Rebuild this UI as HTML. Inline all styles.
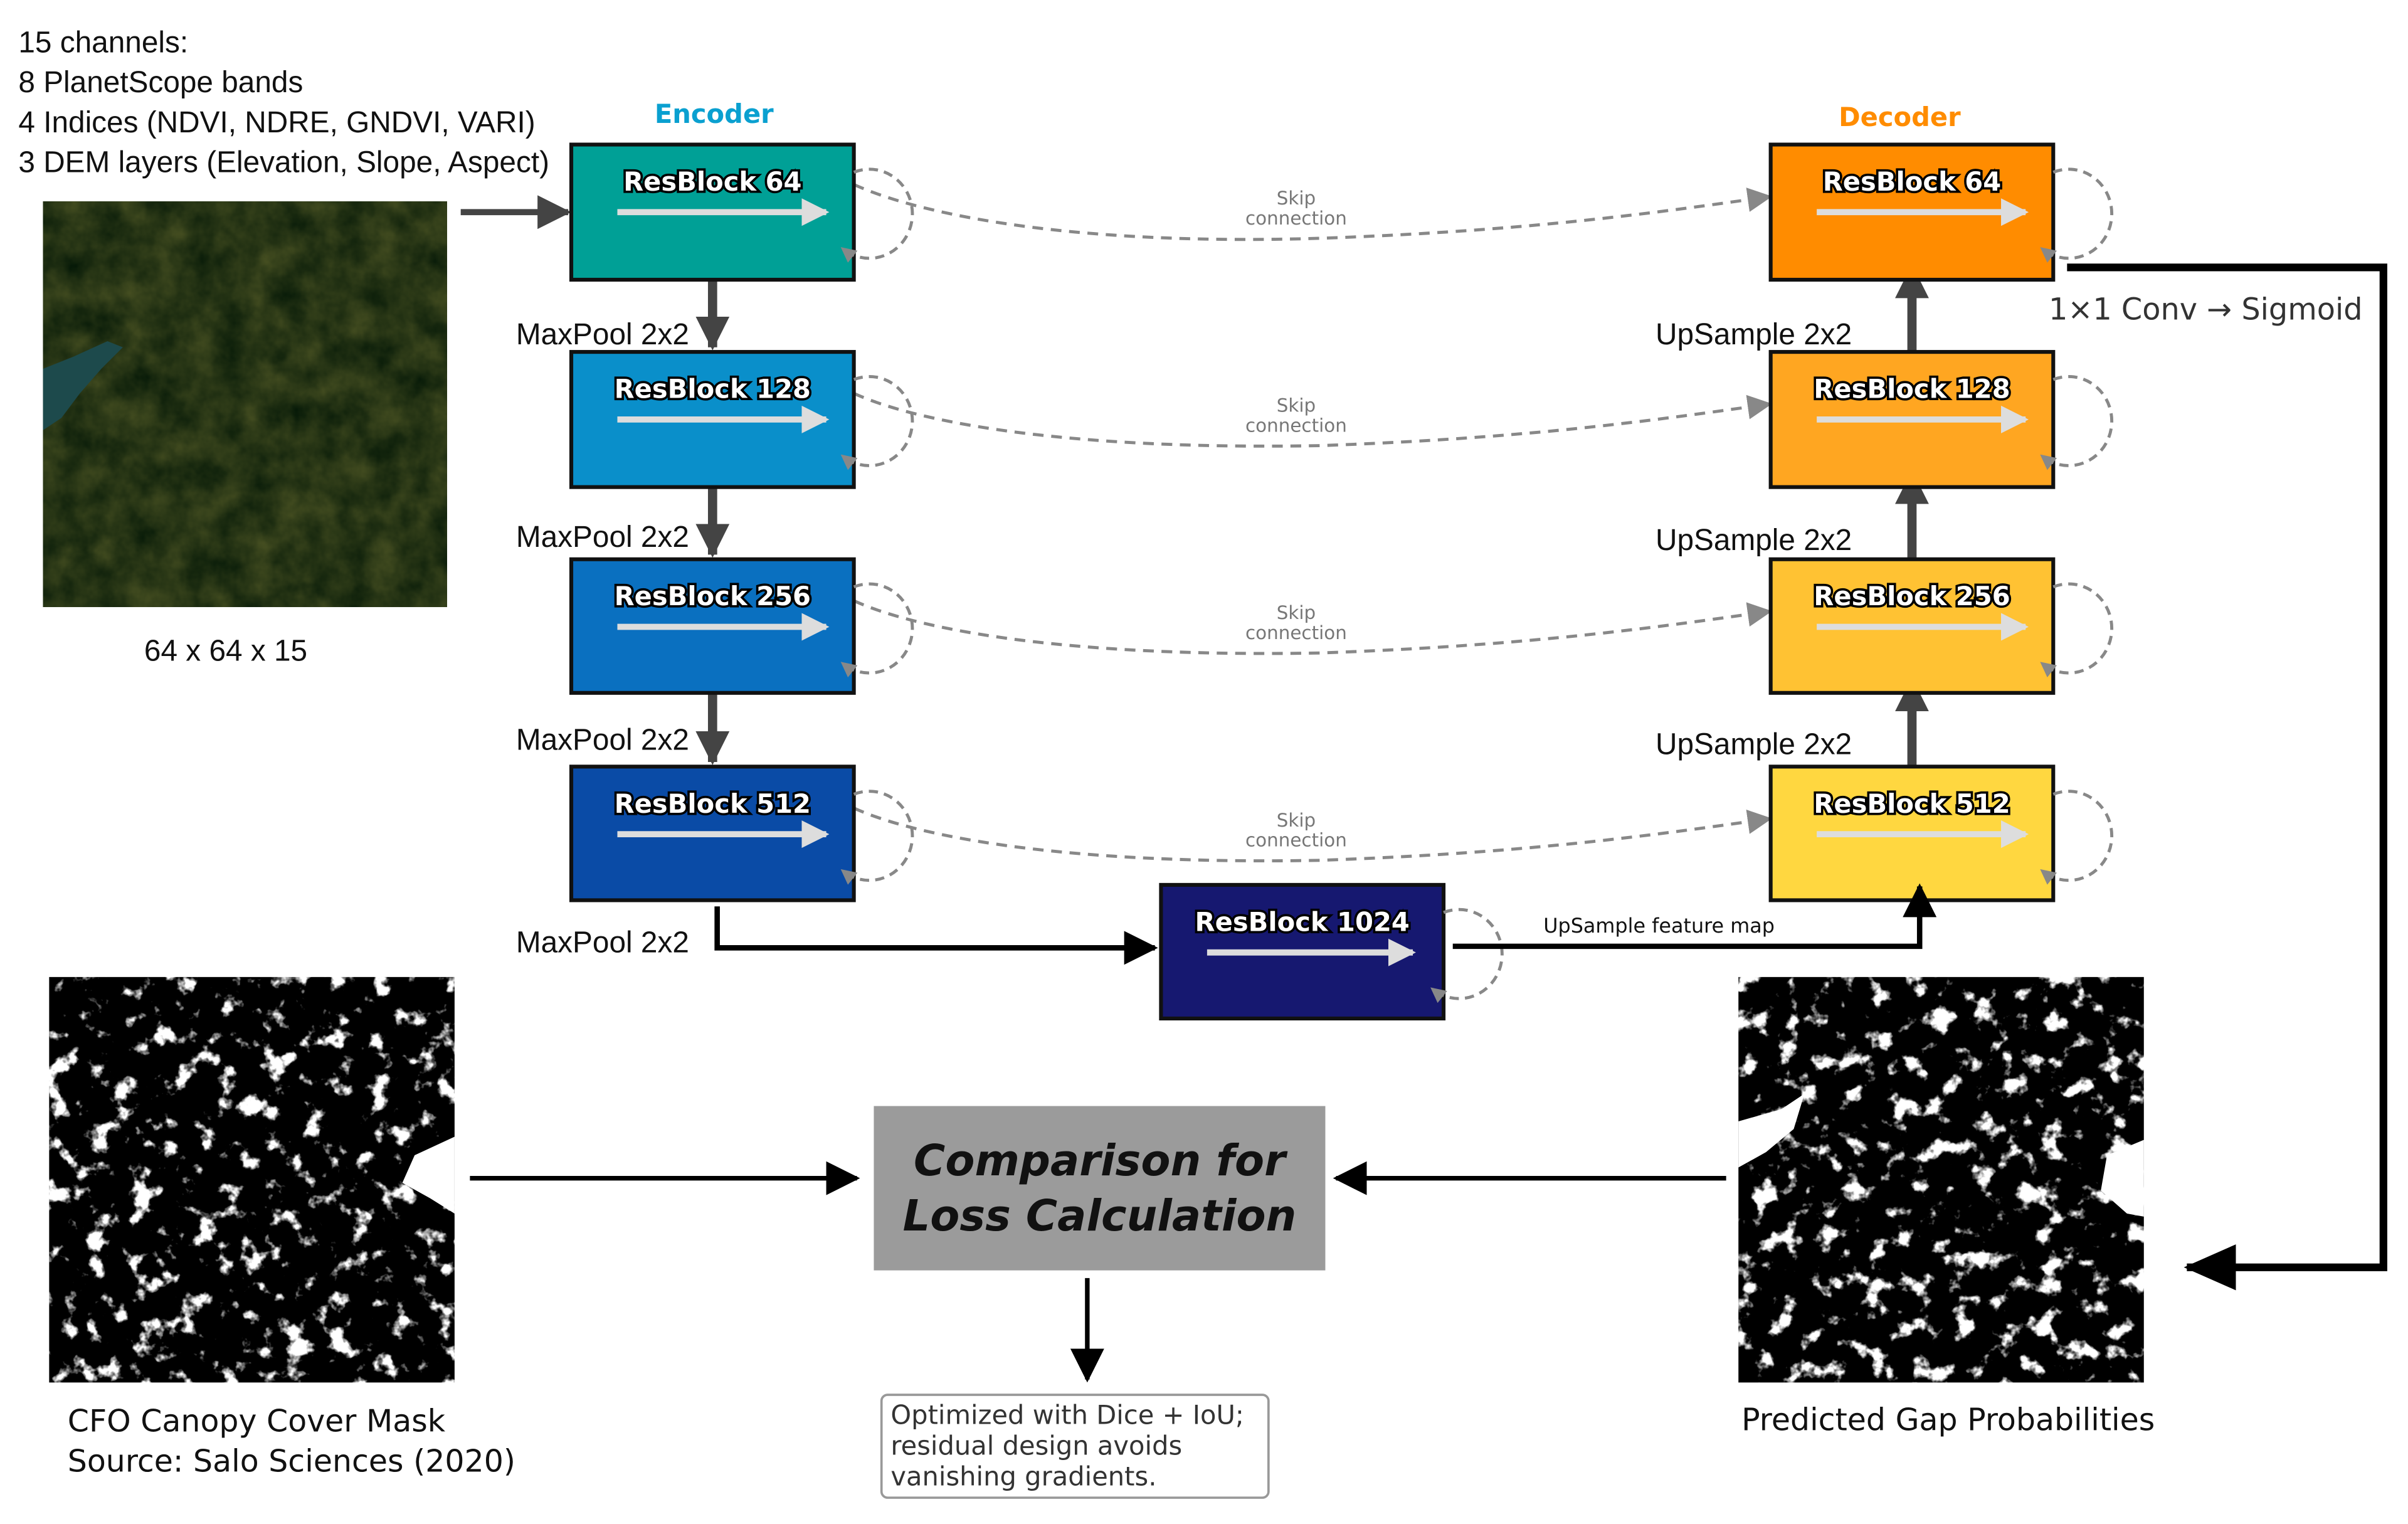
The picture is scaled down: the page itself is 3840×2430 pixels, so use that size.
<!DOCTYPE html>
<html><head><meta charset="utf-8"><style>
html,body{margin:0;padding:0;background:#fff;}
svg{display:block;}
.bt{font-family:"DejaVu Sans","Liberation Sans",sans-serif;font-weight:bold;font-size:17px;fill:#fff;stroke:#000;stroke-width:3px;paint-order:stroke;text-anchor:middle;}
.lb{font-family:"Liberation Sans","DejaVu Sans",sans-serif;font-size:19.5px;fill:#111;}
.sk{font-family:"DejaVu Sans",sans-serif;font-size:12px;fill:#777;text-anchor:middle;}
</style></head><body>
<svg width="3840" height="2430" viewBox="0 0 1568 992" xmlns="http://www.w3.org/2000/svg">
<defs>
<marker id="ag" markerWidth="10" markerHeight="10" refX="8" refY="5" orient="auto" markerUnits="userSpaceOnUse"><path d="M0,0 L10,5 L0,10z" fill="#888"/></marker>
<marker id="agl" markerWidth="16" markerHeight="16" refX="14" refY="8" orient="auto" markerUnits="userSpaceOnUse"><path d="M0,0 L16,8 L0,16z" fill="#888"/></marker>
<marker id="aw" markerWidth="18" markerHeight="18" refX="16" refY="9" orient="auto" markerUnits="userSpaceOnUse"><path d="M0,0 L18,9 L0,18z" fill="#ddd"/></marker>
<marker id="ad" markerWidth="22" markerHeight="22" refX="20" refY="11" orient="auto" markerUnits="userSpaceOnUse"><path d="M0,0 L22,11 L0,22z" fill="#444"/></marker>
<marker id="ab" markerWidth="22" markerHeight="22" refX="20" refY="11" orient="auto" markerUnits="userSpaceOnUse"><path d="M0,0 L22,11 L0,22z" fill="#000"/></marker>
<marker id="abl" markerWidth="34" markerHeight="30" refX="32" refY="15" orient="auto" markerUnits="userSpaceOnUse"><path d="M0,0 L34,15 L0,30z" fill="#000"/></marker>
<filter id="sat" x="0" y="0" width="1" height="1" color-interpolation-filters="sRGB">
<feTurbulence type="fractalNoise" baseFrequency="0.05" numOctaves="4" seed="3"/>
<feColorMatrix type="matrix" values="0.3 0 0 0 0.0  0.25 0 0 0 0.08  0.12 0 0 0 0.02  0 0 0 0 1"/>
</filter>
<filter id="mask" x="0" y="0" width="1" height="1" color-interpolation-filters="sRGB">
<feTurbulence type="fractalNoise" baseFrequency="0.07" numOctaves="4" seed="7"/>
<feColorMatrix type="matrix" values="0 0 0 0 1  0 0 0 0 1  0 0 0 0 1  8 0 0 0 -4.6"/>
</filter>
<filter id="mask2" x="0" y="0" width="1" height="1" color-interpolation-filters="sRGB">
<feTurbulence type="fractalNoise" baseFrequency="0.07" numOctaves="4" seed="11"/>
<feColorMatrix type="matrix" values="0 0 0 0 1  0 0 0 0 1  0 0 0 0 1  8 0 0 0 -4.6"/>
</filter>
</defs>

<text class="lb" x="12" y="34">15 channels:</text>
<text class="lb" x="12" y="60">8 PlanetScope bands</text>
<text class="lb" x="12" y="86">4 Indices (NDVI, NDRE, GNDVI, VARI)</text>
<text class="lb" x="12" y="112">3 DEM layers (Elevation, Slope, Aspect)</text>

<rect x="28" y="131" width="263" height="264" fill="#26361c"/>
<rect x="28" y="131" width="263" height="264" filter="url(#sat)"/>
<path d="M28,240 L48,232 L70,222 L80,226 L66,240 L52,256 L40,272 L28,280z" fill="#1d4a4c"/>
<text class="lb" x="147" y="430" text-anchor="middle">64 x 64 x 15</text>

<path d="M300,138 L370,138" stroke="#444" stroke-width="4" marker-end="url(#ad)"/>

<text x="465" y="80" text-anchor="middle" style="font-family:'DejaVu Sans',sans-serif;font-weight:bold;font-size:17px;fill:#0aa0d0">Encoder</text>
<text x="1237" y="82" text-anchor="middle" style="font-family:'DejaVu Sans',sans-serif;font-weight:bold;font-size:17px;fill:#ff8c00">Decoder</text>

<g fill="none" stroke="#888" stroke-width="2" stroke-dasharray="7,5">
<path d="M556,120 C600,140 700,160 860,155 C1000,150 1080,138 1152,128" marker-end="url(#agl)"/>
<path d="M556,256 C600,276 700,293 860,290 C1000,285 1080,273 1152,263" marker-end="url(#agl)"/>
<path d="M556,391 C600,411 700,428 860,425 C1000,420 1080,408 1152,398" marker-end="url(#agl)"/>
<path d="M556,526 C600,546 700,563 860,560 C1000,555 1080,543 1152,533" marker-end="url(#agl)"/>
</g>
<text class="sk" x="844" y="133">Skip</text><text class="sk" x="844" y="146">connection</text>
<text class="sk" x="844" y="268">Skip</text><text class="sk" x="844" y="281">connection</text>
<text class="sk" x="844" y="403">Skip</text><text class="sk" x="844" y="416">connection</text>
<text class="sk" x="844" y="538">Skip</text><text class="sk" x="844" y="551">connection</text>

<g stroke="#444" stroke-width="6">
<path d="M464,182 L464,226" marker-end="url(#ad)"/>
<path d="M464,317 L464,361" marker-end="url(#ad)"/>
<path d="M464,451 L464,496" marker-end="url(#ad)"/>
<path d="M1245,229 L1245,174" marker-end="url(#ad)"/>
<path d="M1245,364 L1245,308" marker-end="url(#ad)"/>
<path d="M1245,499 L1245,443" marker-end="url(#ad)"/>
</g>
<text class="lb" x="336" y="224">MaxPool 2x2</text>
<text class="lb" x="336" y="356">MaxPool 2x2</text>
<text class="lb" x="336" y="488">MaxPool 2x2</text>
<text class="lb" x="336" y="620">MaxPool 2x2</text>
<text class="lb" x="1078" y="224">UpSample 2x2</text>
<text class="lb" x="1078" y="358">UpSample 2x2</text>
<text class="lb" x="1078" y="491">UpSample 2x2</text>

<g stroke="#111" stroke-width="2.5">
<rect x="372" y="94" width="184" height="88" fill="#00a096"/>
<rect x="372" y="229" width="184" height="88" fill="#0a8fca"/>
<rect x="372" y="364" width="184" height="87" fill="#0a70c0"/>
<rect x="372" y="499" width="184" height="87" fill="#0a4ba6"/>
<rect x="756" y="576" width="184" height="87" fill="#161870"/>
<rect x="1153" y="94" width="184" height="88" fill="#ff8c00"/>
<rect x="1153" y="229" width="184" height="88" fill="#ffa621"/>
<rect x="1153" y="364" width="184" height="87" fill="#ffc233"/>
<rect x="1153" y="499" width="184" height="87" fill="#ffd740"/>
</g>
<g>
<text class="bt" x="464" y="124">ResBlock 64</text>
<text class="bt" x="464" y="259">ResBlock 128</text>
<text class="bt" x="464" y="394">ResBlock 256</text>
<text class="bt" x="464" y="529">ResBlock 512</text>
<text class="bt" x="848" y="606">ResBlock 1024</text>
<text class="bt" x="1245" y="124">ResBlock 64</text>
<text class="bt" x="1245" y="259">ResBlock 128</text>
<text class="bt" x="1245" y="394">ResBlock 256</text>
<text class="bt" x="1245" y="529">ResBlock 512</text>
</g>
<g stroke="#ddd" stroke-width="4">
<path d="M402,138 L538,138" marker-end="url(#aw)"/>
<path d="M402,273 L538,273" marker-end="url(#aw)"/>
<path d="M402,408 L538,408" marker-end="url(#aw)"/>
<path d="M402,543 L538,543" marker-end="url(#aw)"/>
<path d="M786,620 L920,620" marker-end="url(#aw)"/>
<path d="M1183,138 L1319,138" marker-end="url(#aw)"/>
<path d="M1183,273 L1319,273" marker-end="url(#aw)"/>
<path d="M1183,408 L1319,408" marker-end="url(#aw)"/>
<path d="M1183,543 L1319,543" marker-end="url(#aw)"/>
</g>
<g fill="none" stroke="#888" stroke-width="2" stroke-dasharray="6,4">
<path d="M556,112 A28,29 0 1 1 549,162" marker-end="url(#ag)"/>
<path d="M556,247 A28,29 0 1 1 549,297" marker-end="url(#ag)"/>
<path d="M556,382 A28,29 0 1 1 549,432" marker-end="url(#ag)"/>
<path d="M556,517 A28,29 0 1 1 549,567" marker-end="url(#ag)"/>
<path d="M940,594 A28,29 0 1 1 933,644" marker-end="url(#ag)"/>
<path d="M1337,112 A28,29 0 1 1 1330,162" marker-end="url(#ag)"/>
<path d="M1337,247 A28,29 0 1 1 1330,297" marker-end="url(#ag)"/>
<path d="M1337,382 A28,29 0 1 1 1330,432" marker-end="url(#ag)"/>
<path d="M1337,517 A28,29 0 1 1 1330,567" marker-end="url(#ag)"/>
</g>

<path d="M467,590 L467,617 L752,617" fill="none" stroke="#000" stroke-width="3.5" marker-end="url(#ab)"/>
<path d="M946,616 L1250,616 L1250,577" fill="none" stroke="#000" stroke-width="3.5" marker-end="url(#ab)"/>
<text x="1005" y="607" style="font-family:'DejaVu Sans',sans-serif;font-size:13px;fill:#111">UpSample feature map</text>

<path d="M1346,174 L1552,174 L1552,825 L1424,825" fill="none" stroke="#000" stroke-width="5" marker-end="url(#abl)"/>
<text x="1334" y="208" style="font-family:'DejaVu Sans',sans-serif;font-size:19.5px;fill:#333">1×1 Conv → Sigmoid</text>

<rect x="32" y="636" width="264" height="264" fill="#000"/>
<rect x="32" y="636" width="264" height="264" filter="url(#mask)"/>
<path d="M296,740 L270,752 L262,770 L280,780 L296,790z" fill="#fff"/>
<rect x="1132" y="636" width="264" height="264" fill="#000"/>
<rect x="1132" y="636" width="264" height="264" filter="url(#mask2)"/>
<path d="M1132,730 L1160,722 L1175,712 L1168,735 L1150,750 L1132,760z" fill="#fff"/>
<path d="M1396,742 L1372,752 L1368,775 L1385,790 L1396,792z" fill="#fff"/>
<text x="44" y="932" style="font-family:'DejaVu Sans',sans-serif;font-size:20px;fill:#111">CFO Canopy Cover Mask</text>
<text x="44" y="958" style="font-family:'DejaVu Sans',sans-serif;font-size:20px;fill:#111">Source: Salo Sciences (2020)</text>
<text x="1134" y="931" style="font-family:'DejaVu Sans',sans-serif;font-size:20px;fill:#111">Predicted Gap Probabilities</text>

<rect x="569" y="720" width="294" height="107" fill="#9b9b9b"/>
<text x="716" y="765" text-anchor="middle" style="font-family:'DejaVu Sans',sans-serif;font-weight:bold;font-style:italic;font-size:28px;fill:#111">Comparison for</text>
<text x="716" y="801" text-anchor="middle" style="font-family:'DejaVu Sans',sans-serif;font-weight:bold;font-style:italic;font-size:28px;fill:#111">Loss Calculation</text>
<path d="M306,767 L558,767" stroke="#000" stroke-width="3" marker-end="url(#ab)"/>
<path d="M1124,767 L870,767" stroke="#000" stroke-width="3" marker-end="url(#ab)"/>
<path d="M708,832 L708,898" stroke="#000" stroke-width="3" marker-end="url(#ab)"/>

<rect x="574" y="908" width="252" height="67" rx="4" fill="#fff" stroke="#999" stroke-width="1.5"/>
<g style="font-family:'DejaVu Sans',sans-serif;font-size:17px;fill:#333">
<text x="580" y="927">Optimized with Dice + IoU;</text>
<text x="580" y="947">residual design avoids</text>
<text x="580" y="967">vanishing gradients.</text>
</g>
</svg>
</body></html>
